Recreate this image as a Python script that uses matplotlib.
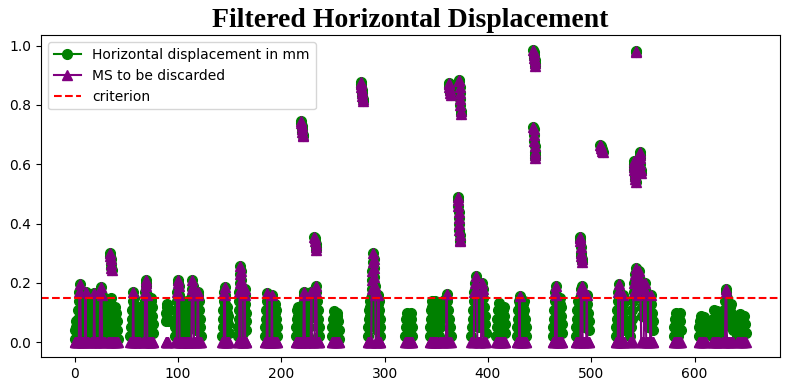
import numpy as np
import matplotlib
matplotlib.use("Agg")
import matplotlib.pyplot as plt

session_x = [
    (0, 13), (16, 29), (32, 42), (34, 36), (54, 63), (66, 76), (88.5, 90),
    (97, 107), (108, 122), (143, 149), (158, 166), (184, 196), (219, 221),
    (214, 225), (226, 237), (232, 234), (249, 256), (277, 279), (284, 296),
    (320, 327), (344, 351), (353, 364), (362, 364), (372, 374), (371, 373),
    (384, 398), (408, 417), (428, 437), (444, 446), (444, 446), (463, 472),
    (485, 498), (489, 491), (509, 511), (524, 532), (543, 543.5), (541, 543),
    (547, 548), (538, 560), (580, 587), (604, 611), (617, 624), (627, 637),
    (641, 650),
]
session_values = [
    [0.01, 0.04, 0.07, 0.05, 0.02, 0.05, 0.08, 0.11, 0.14, 0.17, 0.195, 0.17, 0.14, 0.11, 0.08, 0.05, 0.02, 0.05, 0.08, 0.11, 0.14, 0.17, 0.15, 0.12, 0.09, 0.06, 0.03],
    [0.02, 0.05, 0.08, 0.11, 0.14, 0.165, 0.14, 0.11, 0.08, 0.05, 0.02, 0.05, 0.08, 0.11, 0.14, 0.17, 0.185, 0.16, 0.13, 0.10, 0.07, 0.04, 0.01],
    [0.02, 0.05, 0.08, 0.11, 0.14, 0.15, 0.12, 0.09, 0.06, 0.03, 0.06, 0.09, 0.12, 0.10, 0.07, 0.04, 0.01],
    [0.30, 0.29, 0.28, 0.265, 0.25, 0.245],
    [0.02, 0.05, 0.08, 0.11, 0.14, 0.17, 0.15, 0.12, 0.09, 0.06, 0.03, 0.06, 0.09, 0.12, 0.10, 0.07, 0.04, 0.01],
    [0.02, 0.05, 0.08, 0.11, 0.14, 0.17, 0.20, 0.21, 0.19, 0.16, 0.13, 0.10, 0.07, 0.04, 0.02, 0.05, 0.08, 0.11, 0.14, 0.15, 0.12, 0.09, 0.06, 0.03],
    [0.07, 0.10, 0.13, 0.12, 0.10, 0.08, 0.07],
    [0.02, 0.05, 0.08, 0.11, 0.14, 0.17, 0.20, 0.21, 0.19, 0.16, 0.13, 0.10, 0.07, 0.04, 0.02, 0.05, 0.08, 0.11, 0.14, 0.12, 0.09, 0.06, 0.03],
    [0.02, 0.05, 0.08, 0.11, 0.14, 0.12, 0.09, 0.06, 0.09, 0.12, 0.15, 0.18, 0.21, 0.19, 0.16, 0.13, 0.10, 0.07, 0.04, 0.07, 0.10, 0.13, 0.16, 0.17, 0.14, 0.11, 0.08, 0.05, 0.02],
    [0.02, 0.05, 0.08, 0.11, 0.14, 0.17, 0.186, 0.16, 0.13, 0.10, 0.07, 0.04, 0.07, 0.10, 0.12, 0.09, 0.06, 0.03],
    [0.02, 0.05, 0.08, 0.11, 0.14, 0.17, 0.20, 0.23, 0.257, 0.24, 0.21, 0.18, 0.15, 0.12, 0.09, 0.06, 0.03, 0.06, 0.09, 0.12, 0.15, 0.18, 0.16, 0.13, 0.10, 0.07, 0.04],
    [0.02, 0.05, 0.08, 0.11, 0.14, 0.165, 0.14, 0.11, 0.08, 0.05, 0.02, 0.05, 0.08, 0.11, 0.14, 0.16, 0.13, 0.10, 0.07, 0.04, 0.07, 0.10, 0.13, 0.11, 0.08, 0.05, 0.02],
    [0.745, 0.74, 0.73, 0.72, 0.71, 0.70, 0.695],
    [0.02, 0.05, 0.08, 0.11, 0.12, 0.09, 0.06, 0.03, 0.06, 0.09, 0.12, 0.10, 0.07, 0.10, 0.13, 0.16, 0.17, 0.14, 0.11, 0.08, 0.05, 0.02],
    [0.02, 0.05, 0.08, 0.11, 0.14, 0.17, 0.15, 0.12, 0.09, 0.12, 0.15, 0.18, 0.19, 0.17, 0.14, 0.11, 0.08, 0.05, 0.02],
    [0.355, 0.35, 0.34, 0.33, 0.32, 0.31],
    [0.02, 0.05, 0.08, 0.105, 0.08, 0.05, 0.03, 0.06, 0.09, 0.10, 0.07, 0.04, 0.01],
    [0.877, 0.87, 0.86, 0.85, 0.84, 0.83, 0.82, 0.815],
    [0.02, 0.05, 0.08, 0.11, 0.14, 0.12, 0.09, 0.12, 0.15, 0.18, 0.21, 0.24, 0.27, 0.30, 0.28, 0.25, 0.22, 0.19, 0.16, 0.13, 0.10, 0.07, 0.04, 0.07, 0.10, 0.13, 0.16, 0.14, 0.11, 0.08, 0.05, 0.02],
    [0.02, 0.05, 0.08, 0.10, 0.07, 0.04, 0.02, 0.05, 0.08, 0.10, 0.08, 0.05, 0.02],
    [0.02, 0.05, 0.08, 0.11, 0.14, 0.12, 0.09, 0.06, 0.03, 0.06, 0.09, 0.12, 0.14, 0.11, 0.08, 0.05, 0.02],
    [0.02, 0.05, 0.08, 0.11, 0.14, 0.12, 0.09, 0.12, 0.15, 0.163, 0.14, 0.11, 0.08, 0.05, 0.02],
    [0.875, 0.87, 0.86, 0.85, 0.84, 0.835],
    [0.885, 0.88, 0.86, 0.84, 0.82, 0.80, 0.78, 0.77],
    [0.49, 0.48, 0.46, 0.44, 0.42, 0.40, 0.38, 0.36, 0.345, 0.34],
    [0.02, 0.05, 0.08, 0.11, 0.14, 0.17, 0.20, 0.225, 0.20, 0.17, 0.14, 0.11, 0.08, 0.05, 0.08, 0.11, 0.14, 0.17, 0.20, 0.18, 0.15, 0.12, 0.09, 0.06, 0.03],
    [0.02, 0.05, 0.08, 0.11, 0.133, 0.11, 0.08, 0.05, 0.02, 0.05, 0.08, 0.11, 0.12, 0.09, 0.06, 0.03],
    [0.02, 0.05, 0.08, 0.11, 0.14, 0.157, 0.13, 0.10, 0.07, 0.04, 0.07, 0.10, 0.13, 0.14, 0.11, 0.08, 0.05, 0.02],
    [0.985, 0.98, 0.97, 0.96, 0.95, 0.94, 0.93],
    [0.725, 0.72, 0.70, 0.68, 0.66, 0.64, 0.63, 0.62],
    [0.02, 0.05, 0.08, 0.11, 0.14, 0.17, 0.19, 0.16, 0.13, 0.10, 0.07, 0.04, 0.07, 0.10, 0.13, 0.15, 0.12, 0.09, 0.06, 0.03],
    [0.02, 0.05, 0.08, 0.11, 0.14, 0.12, 0.09, 0.12, 0.15, 0.18, 0.19, 0.17, 0.14, 0.11, 0.08, 0.05, 0.08, 0.11, 0.14, 0.16, 0.13, 0.10, 0.07, 0.04],
    [0.355, 0.35, 0.34, 0.32, 0.30, 0.29, 0.28, 0.27],
    [0.665, 0.66, 0.655, 0.65, 0.645, 0.64],
    [0.02, 0.05, 0.08, 0.11, 0.14, 0.17, 0.197, 0.17, 0.14, 0.11, 0.08, 0.05, 0.08, 0.11, 0.14, 0.16, 0.13, 0.10, 0.07, 0.04],
    [0.982, 0.98],
    [0.61, 0.60, 0.59, 0.58, 0.57, 0.56, 0.55, 0.54],
    [0.64, 0.63, 0.62, 0.60, 0.58, 0.57],
    [0.02, 0.05, 0.08, 0.11, 0.14, 0.17, 0.20, 0.23, 0.25, 0.22, 0.19, 0.16, 0.19, 0.22, 0.24, 0.21, 0.18, 0.15, 0.12, 0.09, 0.12, 0.15, 0.18, 0.20, 0.17, 0.14, 0.11, 0.08, 0.05, 0.08, 0.11, 0.14, 0.16, 0.13, 0.10, 0.07, 0.04],
    [0.02, 0.05, 0.08, 0.10, 0.08, 0.05, 0.02, 0.05, 0.08, 0.10, 0.07, 0.04],
    [0.02, 0.05, 0.07, 0.088, 0.06, 0.03, 0.05, 0.08, 0.085, 0.06, 0.03],
    [0.02, 0.05, 0.08, 0.11, 0.08, 0.05, 0.03, 0.06, 0.09, 0.105, 0.08, 0.05, 0.02],
    [0.02, 0.05, 0.08, 0.11, 0.14, 0.17, 0.18, 0.15, 0.12, 0.09, 0.06, 0.09, 0.12, 0.13, 0.10, 0.07, 0.04],
    [0.02, 0.05, 0.08, 0.095, 0.07, 0.04, 0.06, 0.09, 0.09, 0.06, 0.03],
]
criterion = 0.15

xs, ys = [], []
for (x0, x1), vals in zip(session_x, session_values):
    xs.extend(np.linspace(x0, x1, len(vals)))
    ys.extend(vals)
    xs.append(np.nan)
    ys.append(np.nan)
xs = np.array(xs)
ys = np.array(ys)
discard = np.where(np.isnan(ys), np.nan, np.where(ys > criterion, ys, 0.0))

fig = plt.figure(figsize=(7.9, 3.9), dpi=100)
ax = fig.add_axes([0.052, 0.085, 0.935, 0.824])
ax.plot(xs, ys, color="green", marker="o", markersize=7, label="Horizontal displacement in mm")
ax.plot(xs, discard, color="purple", marker="^", markersize=7, label="MS to be discarded")
ax.axhline(criterion, color="red", linestyle="--", label="criterion")
ax.legend(loc="upper left")
ax.set_title("Filtered Horizontal Displacement", fontsize=20, fontweight="bold",
             family="Liberation Serif")
fig.savefig("out.png", dpi=100)
